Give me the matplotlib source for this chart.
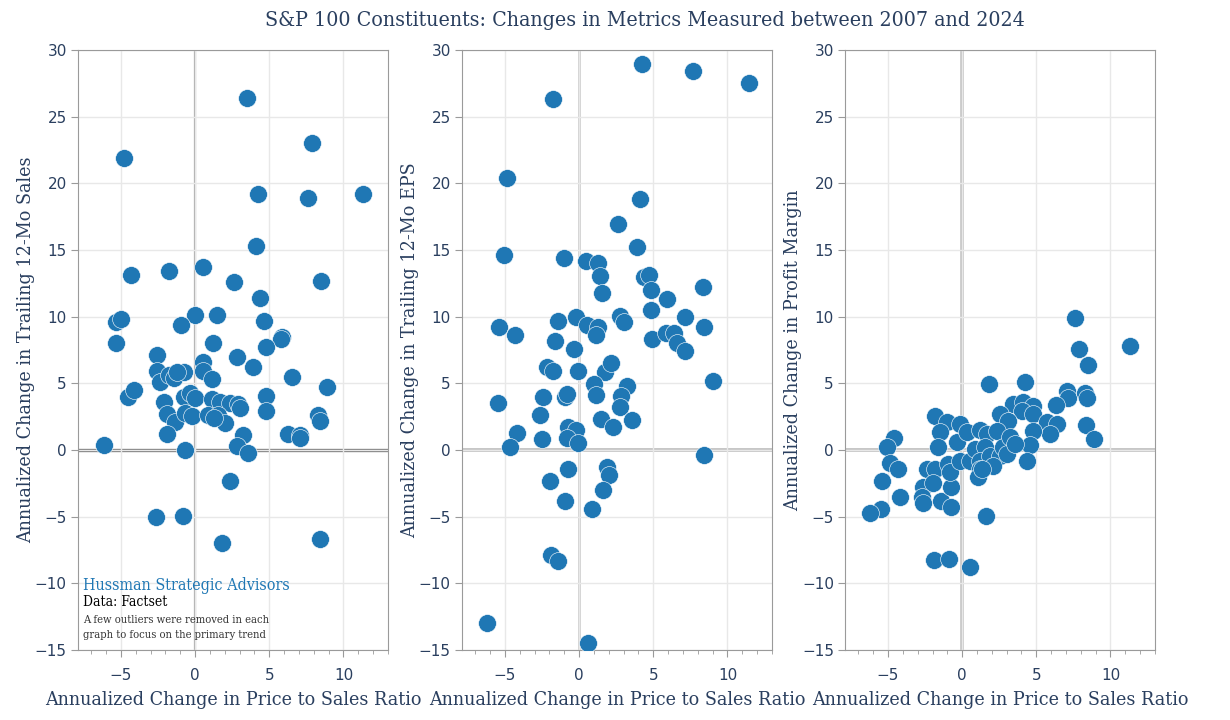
import numpy as np
import matplotlib.pyplot as plt
from matplotlib.ticker import MultipleLocator

# annualized change in price/sales vs trailing 12-mo sales
sales_x = [3.47, 7.87, -4.81, 4.23, 7.63, 11.34, 4.12, -4.30, -1.74, 0.51, 2.62, 8.50, 4.38,
           -5.32, -4.97, -0.04, 1.45, -0.98, 4.65, -5.37, -2.57, 1.21, 5.88, 5.82, 4.81, 2.80,
           0.56, 3.90, 0.56, 1.12, 6.53, 8.90, -2.57, -2.35, -1.79, -1.45, -0.78, -1.23, -4.56,
           -4.09, -2.13, -1.90, -1.34, -1.90, -0.78, -0.34, 0.00, -0.67, -0.22, 1.12, 1.68,
           2.35, 2.90, 3.02, 0.90, 1.57, 2.00, 1.30, 4.81, 4.81, 3.24, 2.80, 3.58, 6.29, 7.05,
           7.09, 8.28, 8.43, -6.15, -0.67, 2.35, -2.62, -0.85, 1.83, 8.43]
sales_y = [26.4, 23.0, 21.9, 19.2, 18.9, 19.2, 15.3, 13.15, 13.4, 13.7, 12.6, 12.65, 11.4,
           9.6, 9.8, 10.1, 10.1, 9.4, 9.65, 8.0, 7.1, 8.05, 8.5, 8.35, 7.7, 7.0,
           6.6, 6.2, 5.95, 5.33, 5.5, 4.7, 5.95, 5.1, 5.6, 5.38, 5.87, 5.87, 4.0,
           4.5, 3.62, 2.7, 2.1, 1.2, 3.95, 4.25, 3.88, 2.75, 2.55, 3.8, 3.62,
           3.5, 3.45, 3.13, 2.65, 2.62, 2.0, 2.4, 4.05, 2.95, 1.1, 0.3, -0.2, 1.2, 1.1,
           0.9, 2.6, 2.2, 0.4, 0.0, -2.3, -5.05, -4.93, -7.0, -6.7]

# price/sales vs trailing 12-mo EPS
eps_x = [4.23, 7.71, 11.45, -1.79, -4.89, 4.07, 2.62, 3.91, -5.07, -1.04, 0.45, 1.24, 1.43,
         4.34, 4.71, 1.56, 4.82, 5.90, 8.37, 4.86, 7.15, -0.23, 2.76, 3.05, -1.40, 0.54,
         1.29, 1.13, -5.41, -4.34, 8.43, -1.65, 4.91, 5.88, 6.38, 6.58, 7.15, -0.36, -2.19,
         -1.79, -0.09, 1.76, 2.17, 0.97, 1.13, 3.24, 2.83, 2.76, -5.48, -2.47, -0.95, -0.84,
         -2.65, 1.47, 3.53, 2.29, -4.16, -0.72, -0.23, -0.84, -0.05, -2.53, -4.66, 9.00,
         8.44, -0.72, 1.88, 2.04, -1.95, 1.61, -0.93, 0.86, -1.88, -1.40, -6.24, 0.57]
eps_y = [28.95, 28.4, 27.5, 26.3, 20.4, 18.8, 16.95, 15.2, 14.6, 14.4, 14.15, 14.05, 13.05,
         13.0, 13.1, 11.8, 12.0, 11.3, 12.2, 10.5, 10.0, 10.0, 10.05, 9.6, 9.65, 9.35,
         9.25, 8.6, 9.25, 8.6, 9.25, 8.15, 8.35, 8.8, 8.75, 8.05, 7.45, 7.6, 6.2,
         5.9, 5.9, 5.85, 6.5, 4.95, 4.1, 4.8, 4.05, 3.2, 3.5, 4.0, 4.0, 4.2,
         2.65, 2.3, 2.25, 1.7, 1.3, 1.7, 1.5, 0.9, 0.5, 0.8, 0.2, 5.2,
         -0.38, -1.4, -1.3, -1.85, -2.35, -3.0, -3.8, -4.4, -7.9, -8.35, -12.95, -14.45]

# price/sales vs profit margin
margin_x = [7.63, 11.35, 7.88, 8.49, 1.82, 4.22, 7.09, 7.14, 8.29, 8.45, 3.45, 4.12, 4.80,
            4.01, 4.80, 6.31, 2.55, 3.10, 5.70, 6.38, 5.93, 8.36, 8.90, 4.80, 4.57, 4.35,
            -1.84, -1.05, -0.16, -1.51, -0.38, -1.62, 0.30, 1.20, 1.65, 2.32, -4.62, -5.05,
            -4.89, -4.30, -5.38, -5.45, -6.24, -4.17, -2.40, -1.84, -2.64, -2.00, -2.68, -2.64,
            -1.40, -0.72, -0.77, -0.95, -0.83, -0.16, 0.52, 0.86, 1.53, 1.20, 1.87, 2.55,
            2.77, 3.00, 3.22, 3.56, 1.20, 2.10, 1.08, 1.37, 1.60, -1.91, -0.90, 0.56]
margin_y = [9.9, 7.8, 7.6, 6.4, 4.95, 5.1, 4.4, 3.9, 4.25, 3.9, 3.45, 3.57, 3.32,
            2.95, 2.7, 3.4, 2.7, 2.2, 2.07, 1.95, 1.2, 1.9, 0.85, 1.45, 0.35, -0.8,
            2.57, 2.07, 1.95, 1.32, 0.57, 0.2, 1.32, 1.5, 1.2, 1.45, 0.9, 0.2,
            -1.0, -1.45, -2.3, -4.4, -4.75, -3.5, -1.43, -1.43, -2.75, -2.45, -3.55, -4.0,
            -3.8, -4.3, -2.75, -1.05, -1.68, -0.8, -0.8, 0.07, 0.2, -0.8, -0.43, -0.43,
            0.2, -0.3, 0.95, 0.45, -1.43, -1.18, -2.05, -1.45, -4.95, -8.25, -8.2, -8.75]

panels = [
    (sales_x, sales_y, "Annualized Change in Trailing 12-Mo Sales", "#7a7a7a", 2.4, "#ababab", 1.6),
    (eps_x, eps_y, "Annualized Change in Trailing 12-Mo EPS", "#c4c4c4", 2.8, "#c4c4c4", 1.8),
    (margin_x, margin_y, "Annualized Change in Profit Margin", "#c4c4c4", 2.8, "#c4c4c4", 2.6),
]

navy = "#2a3f5f"
serif = ["DejaVu Serif"]
cond = "condensed"

fig = plt.figure(figsize=(12.3, 7.2), dpi=100)
lefts = [0.0634, 0.3756, 0.687]

for left, (xs, ys, ylab, hcol, hlw, vcol, vlw) in zip(lefts, panels):
    ax = fig.add_axes([left, 0.0972, 0.252, 0.8333])
    ax.set_xlim(-7.9, 13.0)
    ax.set_ylim(-15, 30)
    ax.xaxis.set_major_locator(MultipleLocator(5))
    ax.xaxis.set_minor_locator(MultipleLocator(1))
    ax.yaxis.set_major_locator(MultipleLocator(5))
    ax.grid(True, which="major", color="#e8e8e8", lw=1, zorder=0)
    ax.axhline(0, color=hcol, lw=hlw, zorder=1)
    ax.axvline(0, color=vcol, lw=vlw, zorder=1)
    ax.scatter(xs, ys, s=165, color="#1f77b4", edgecolor="white", linewidth=0.4, zorder=3)
    for sp in ax.spines.values():
        sp.set_color("#9a9a9a")
    ax.tick_params(which="major", length=5, color="#9a9a9a", labelcolor=navy, labelsize=11, pad=3)
    ax.tick_params(axis="x", which="major", pad=8)
    ax.tick_params(axis="x", which="minor", length=3, color="#9a9a9a")
    ax.set_xlabel("Annualized Change in Price to Sales Ratio", fontsize=14, color=navy,
                  family=serif, fontstretch=cond, labelpad=6)
    ax.set_ylabel(ylab, fontsize=14, color=navy, family=serif, fontstretch=cond, labelpad=0)
    if left == lefts[0]:
        ax.text(0.015, 0.1, "Hussman Strategic Advisors", transform=ax.transAxes,
                color="#1f77b4", fontsize=11.5, family=serif, fontstretch=cond)
        ax.text(0.015, 0.073, "Data: Factset", transform=ax.transAxes,
                color="black", fontsize=10, family=serif, fontstretch=cond)
        ax.text(0.015, 0.045, "A few outliers were removed in each", transform=ax.transAxes,
                color="#333333", fontsize=8, family=serif, fontstretch=cond)
        ax.text(0.015, 0.02, "graph to focus on the primary trend", transform=ax.transAxes,
                color="#333333", fontsize=8, family=serif, fontstretch=cond)

fig.text(0.524, 0.972, "S&P 100 Constituents: Changes in Metrics Measured between 2007 and 2024",
         ha="center", va="center", fontsize=15.3, color=navy, family=serif, fontstretch=cond)

fig.savefig("out.png", dpi=100)
